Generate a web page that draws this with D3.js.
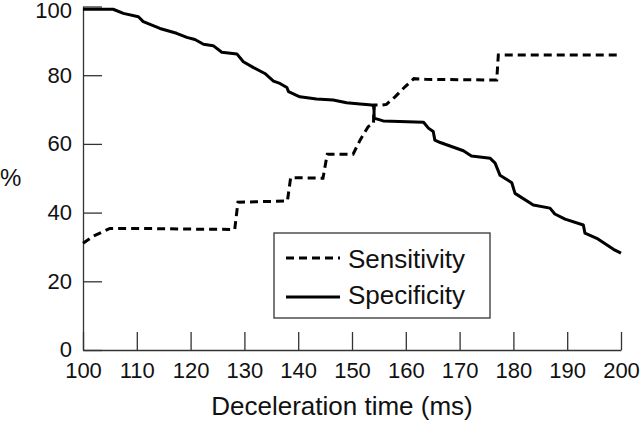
<!DOCTYPE html>
<html>
<head>
<meta charset="utf-8">
<script src="https://cdn.jsdelivr.net/npm/d3@7"></script>
<style>
  html, body { margin: 0; padding: 0; background: #fff; }
  svg { display: block; }
  text { font-family: "Liberation Sans", Arial, Helvetica, sans-serif; fill: #111; }
</style>
</head>
<body>
<svg id="chart" width="640" height="421"></svg>
<script>
// Data
const xTicks = [100, 110, 120, 130, 140, 150, 160, 170, 180, 190, 200];
const yTicks = [0, 20, 40, 60, 80, 100];

const sensitivityX = [100, 102, 105, 110, 120, 128.2, 128.8, 138.0, 138.6, 144.6, 145.4, 150.2, 151.5, 153.0, 154.0, 154.1, 155.5, 156.4, 158.0, 159.9, 161.5, 163.6, 176.9, 177.2, 200];
const sensitivityY = [31.1, 33.2, 35.4, 35.4, 35.2, 35.1, 43.0, 43.4, 50.2, 50.0, 57.0, 57.0, 61.1, 65.0, 66.0, 71.3, 71.3, 71.5, 73.7, 76.7, 79.0, 78.8, 78.6, 85.9, 85.9];

const specificityX = [100, 105.6, 107.5, 110.3, 111.2, 114.3, 117.4, 119.3, 120.8, 122.4, 124.2, 125.8, 128.6, 129.8, 131.7, 133.8, 135.4, 136.6, 137.9, 138.2, 140.3, 143.4, 146.5, 149.0, 151.5, 153.7, 154.1, 154.1, 155.8, 163.3, 164.2, 165.1, 165.4, 166.4, 170.7, 172.2, 175.7, 176.6, 177.5, 179.7, 180.3, 183.7, 186.8, 187.7, 189.6, 193.0, 193.3, 195.5, 198.6, 200];
const specificityY = [99.2, 99.2, 98.0, 97.0, 95.6, 93.6, 92.2, 91.0, 90.4, 89.0, 88.6, 86.7, 86.2, 83.9, 82.2, 80.5, 78.3, 77.6, 76.4, 75.2, 73.7, 73.1, 72.8, 72.0, 71.6, 71.3, 70.8, 67.5, 66.7, 66.3, 64.6, 63.6, 61.1, 60.4, 58.0, 56.5, 55.8, 54.4, 50.9, 48.7, 45.6, 42.2, 41.3, 39.6, 38.1, 36.4, 34.0, 32.5, 29.3, 28.2];

const seriesNames = ["Sensitivity", "Specificity"];
const xTitle = "Deceleration time (ms)";
const yTitle = "%";

const svg = d3.select("#chart");
const x = d3.scaleLinear().domain([100, 200]).range([83, 621]);
const y = d3.scaleLinear().domain([0, 100]).range([350, 6.5]);

const axisColor = "#333";

// X axis
const gx = svg.append("g").attr("transform", "translate(0,350)")
  .call(d3.axisBottom(x).tickValues(xTicks).tickSizeInner(-18).tickSizeOuter(0).tickPadding(12).tickFormat(d3.format("d")));
// Y axis
const gy = svg.append("g").attr("transform", "translate(83,0)")
  .call(d3.axisLeft(y).tickValues(yTicks).tickSizeInner(-19).tickSizeOuter(0).tickPadding(11).tickFormat(d3.format("d")));

[gx, gy].forEach(g => {
  g.select(".domain").attr("stroke", axisColor).attr("stroke-width", 1.3);
  g.selectAll(".tick line").attr("stroke", axisColor).attr("stroke-width", 1.3);
  g.selectAll(".tick text").attr("font-size", 22).attr("fill", "#111")
    .attr("font-family", "'Liberation Sans', Arial, sans-serif");
});
// top label sits slightly lower than its tick, as in the reference
gy.selectAll(".tick text").filter(d => d === 100).attr("y", 4);
gy.selectAll(".tick text").filter(d => d === 0).attr("y", -1);

// Titles
svg.append("text").attr("x", 342).attr("y", 415).attr("text-anchor", "middle")
  .attr("font-size", 26).text(xTitle);
svg.append("text").attr("x", 0).attr("y", 186).attr("font-size", 24).text(yTitle);

// Lines
const line = d3.line().x(d => x(d[0])).y(d => y(d[1]));
const sens = sensitivityX.map((v, i) => [v, sensitivityY[i]]);
const spec = specificityX.map((v, i) => [v, specificityY[i]]);

svg.append("path").datum(spec).attr("d", line)
  .attr("fill", "none").attr("stroke", "#000").attr("stroke-width", 3)
  .attr("stroke-linejoin", "round");
svg.append("path").datum(sens).attr("d", line)
  .attr("fill", "none").attr("stroke", "#000").attr("stroke-width", 3)
  .attr("stroke-dasharray", "8,5");

// Legend
const lg = svg.append("g");
lg.append("rect").attr("x", 274).attr("y", 233).attr("width", 216).attr("height", 85)
  .attr("fill", "#fff").attr("stroke", axisColor).attr("stroke-width", 1.3);
const legendRows = [
  { name: seriesNames[0], dash: "8,5", ly: 258, ty: 268 },
  { name: seriesNames[1], dash: null, ly: 297, ty: 304 }
];
legendRows.forEach(r => {
  lg.append("line").attr("x1", 286).attr("x2", 340).attr("y1", r.ly).attr("y2", r.ly)
    .attr("stroke", "#000").attr("stroke-width", 3)
    .attr("stroke-dasharray", r.dash);
  lg.append("text").attr("x", 348).attr("y", r.ty).attr("font-size", 26).text(r.name);
});
</script>
</body>
</html>
